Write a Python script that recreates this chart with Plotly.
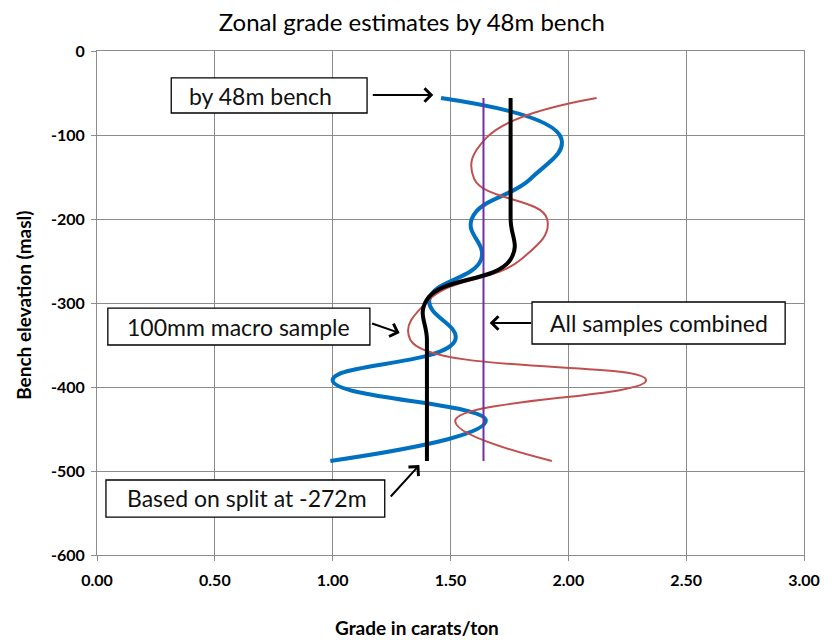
import plotly.graph_objects as go

# ---- data ----
elevation = [-56, -104, -152, -200, -248, -296, -344, -392, -440, -488]
grade_48m_bench = [1.46, 1.97, 1.84, 1.59, 1.63, 1.41, 1.52, 1.00, 1.65, 0.99]
grade_macro_100mm = [2.12, 1.65, 1.60, 1.91, 1.80, 1.41, 1.33, 2.33, 1.52, 1.93]
grade_split_272 = [1.755, 1.755, 1.755, 1.755, 1.755, 1.40, 1.40, 1.40, 1.40, 1.40]
grade_all_combined = [1.64] * 10

y_tickvals = [0, -100, -200, -300, -400, -500, -600]
y_ticktext = ["0", "-100", "-200", "-300", "-400", "-500", "-600"]
x_tickvals = [0, 0.5, 1.0, 1.5, 2.0, 2.5, 3.0]
x_ticktext = ["0.00", "0.50", "1.00", "1.50", "2.00", "2.50", "3.00"]

FONT = "Lato, 'Open Sans', sans-serif"
GRID = "#8c8c8c"
SMOOTH = 1.3

fig = go.Figure()
fig.add_trace(go.Scatter(x=grade_48m_bench, y=elevation, mode="lines",
                         line=dict(color="#0070C0", width=4, shape="spline", smoothing=SMOOTH),
                         name="by 48m bench"))
fig.add_trace(go.Scatter(x=grade_macro_100mm, y=elevation, mode="lines",
                         line=dict(color="#C0504D", width=2, shape="spline", smoothing=SMOOTH),
                         name="100mm macro sample"))
fig.add_trace(go.Scatter(x=grade_all_combined, y=elevation, mode="lines",
                         line=dict(color="#7030A0", width=2),
                         name="All samples combined"))
fig.add_trace(go.Scatter(x=grade_split_272, y=elevation, mode="lines",
                         line=dict(color="#000000", width=4, shape="spline", smoothing=SMOOTH),
                         name="Based on split at -272m"))

# ---- callout boxes (data coords) ----
boxes = [
    ("by 48m bench", 0.315, 1.146, -32.1, -73.8, 0.382, -53.0),
    ("100mm macro sample", 0.046, 1.158, -306.0, -350.0, 0.118, -328.0),
    ("All samples combined", 1.846, 2.920, -298.8, -348.8, 1.913, -323.8),
    ("Based on split at -272m", 0.038, 1.221, -510.7, -554.8, 0.118, -532.7),
]
shapes = []
annotations = []
for text, x0, x1, y0, y1, tx, ty in boxes:
    shapes.append(dict(type="rect", xref="x", yref="y", x0=x0, x1=x1, y0=y0, y1=y1,
                       line=dict(color="#000000", width=1.3), fillcolor="white", layer="above"))
    annotations.append(dict(text=text, x=tx, y=ty, xref="x", yref="y", xanchor="left",
                            yanchor="middle", showarrow=False,
                            font=dict(family=FONT, size=23, color="#111111")))

# arrows: head (x, y) data coords, tail offset (ax, ay) pixels
arrows = [
    (1.427, -52.4, -62, 0),
    (1.284, -335.7, -29, -10),
    (1.666, -323.8, 43, 0),
    (1.368, -492.9, -30, 33),
]
for hx, hy, ax, ay in arrows:
    annotations.append(dict(text="", x=hx, y=hy, xref="x", yref="y", ax=ax, ay=ay,
                            showarrow=True, arrowhead=4, arrowsize=1.3, arrowwidth=2,
                            arrowcolor="#000000"))

# axis titles as paper-positioned annotations
annotations.append(dict(text="<b>Bench elevation (masl)</b>", xref="paper", yref="paper",
                        x=-0.105, y=0.496, xanchor="center", yanchor="middle",
                        textangle=-90, showarrow=False,
                        font=dict(family=FONT, size=19, color="#000000")))
annotations.append(dict(text="<b>Grade in carats/ton</b>", xref="paper", yref="paper",
                        x=0.452, y=-0.143, xanchor="center", yanchor="middle",
                        showarrow=False,
                        font=dict(family=FONT, size=19, color="#000000")))

fig.update_layout(
    width=824, height=632,
    margin=dict(l=89, r=20, t=43, b=85),
    paper_bgcolor="white", plot_bgcolor="white",
    showlegend=False,
    shapes=shapes, annotations=annotations,
    title=dict(text="Zonal grade estimates by 48m bench", x=0.49, xanchor="center",
               y=0.99, yanchor="top", pad=dict(t=0, b=0),
               font=dict(family=FONT, size=24, color="#000000")),
    font=dict(family=FONT),
)
fig.update_xaxes(range=[0, 3], tickvals=x_tickvals, ticktext=x_ticktext,
                 showgrid=True, gridcolor=GRID, gridwidth=1,
                 showline=True, linecolor=GRID, linewidth=1, mirror=True,
                 ticks="outside", ticklen=5, tickcolor=GRID, zeroline=False,
                 ticklabelstandoff=6,
                 tickfont=dict(family=FONT, size=16, color="#000000", weight="bold"))
fig.update_yaxes(range=[-600, 0], tickvals=y_tickvals, ticktext=y_ticktext,
                 showgrid=True, gridcolor=GRID, gridwidth=1,
                 showline=True, linecolor=GRID, linewidth=1, mirror=True,
                 ticks="outside", ticklen=5, tickcolor=GRID, zeroline=False,
                 ticklabelstandoff=3,
                 tickfont=dict(family=FONT, size=16, color="#000000", weight="bold"))

fig.write_html("out.html")
